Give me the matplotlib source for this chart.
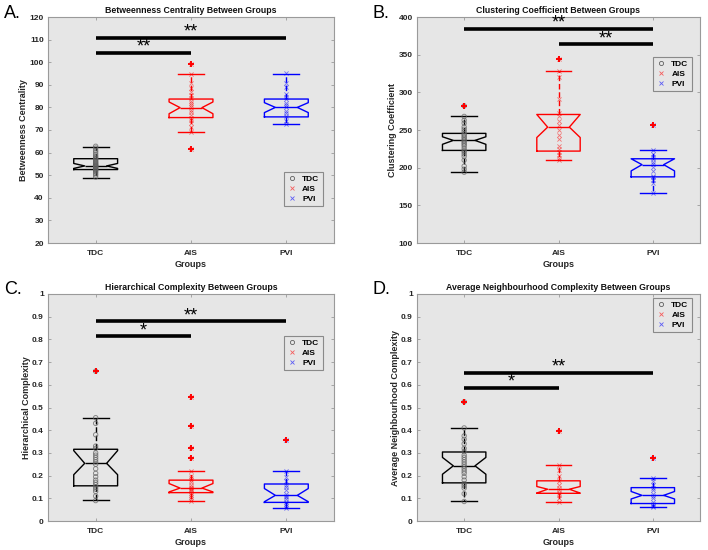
import matplotlib
matplotlib.use("Agg")
import matplotlib.pyplot as plt
from matplotlib.lines import Line2D

plt.rcParams['font.family'] = ['Liberation Sans', 'DejaVu Sans']

groups = ["TDC", "AIS", "PVI"]
group_colors = ["black", "red", "blue"]
point_colors = ["#606060", "red", "blue"]

# ---------------- Panel A: Betweenness Centrality ----------------
A_title = "Betweenness Centrality Between Groups"
A_ylabel = "Betweenness Centrality"
A_q1 = [52.5, 75.5, 75.8]
A_med = [54.1, 79.9, 80.0]
A_q3 = [57.3, 83.7, 83.7]
A_nlo = [53.0, 77.2, 77.7]
A_nhi = [55.2, 82.4, 82.1]
A_wlo = [48.9, 68.9, 72.6]
A_whi = [62.6, 94.7, 94.9]
A_out = [[], [99.0, 61.5], []]
A_TDC = [49.2, 50.1, 50.8, 51.5, 52.0, 52.4, 52.8, 53.1, 53.5, 53.8, 54.0, 54.2, 54.5,
         54.8, 55.2, 55.6, 56.0, 56.5, 57.0, 57.4, 57.9, 58.5, 59.3, 60.2, 61.0, 62.0, 62.8]
A_AIS = [61.5, 69.0, 71.5, 73.0, 74.5, 75.5, 76.5, 78.0, 79.0, 80.0, 81.0, 82.0, 83.0,
         84.0, 85.5, 87.0, 88.5, 91.0, 94.8, 99.0]
A_PVI = [72.8, 74.0, 76.0, 77.5, 78.5, 80.0, 81.0, 82.0, 83.5, 84.5, 86.0, 89.0, 91.0, 95.0]
A_ylim = (20, 120)
A_yticks = [20, 30, 40, 50, 60, 70, 80, 90, 100, 110, 120]
A_sig = [(1, 2, 104.2, "**"), (1, 3, 110.8, "**")]

# ---------------- Panel B: Clustering Coefficient ----------------
B_title = "Clustering Coefficient Between Groups"
B_ylabel = "Clustering Coefficient"
B_q1 = [222.9, 222.0, 187.8]
B_med = [236.2, 253.8, 204.0]
B_q3 = [245.5, 270.6, 211.8]
B_nlo = [231.0, 240.0, 195.7]
B_nhi = [241.0, 270.6, 211.8]
B_wlo = [194.2, 210.0, 166.5]
B_whi = [268.6, 328.0, 223.8]
B_out = [[282.0], [344.0], [256.0]]
B_TDC = [194, 198, 202, 210, 215, 218, 221, 223, 226, 229, 231, 233, 235, 237, 239, 241,
         243, 245, 248, 251, 254, 259, 263, 268, 282]
B_AIS = [210, 213, 217, 221, 225, 229, 238, 243, 250, 256, 262, 268, 272, 291, 320, 328, 344]
B_PVI = [167, 180, 184, 187, 189, 195, 201, 205, 208, 212, 214, 218, 224, 256]
B_ylim = (100, 400)
B_yticks = [100, 150, 200, 250, 300, 350, 400]
B_sig = [(1, 3, 384.5, "**"), (2, 3, 364.0, "**")]

# ---------------- Panel C: Hierarchical Complexity ----------------
C_title = "Hierarchical Complexity Between Groups"
C_ylabel = "Hierarchical Complexity"
C_q1 = [0.155, 0.125, 0.082]
C_med = [0.254, 0.145, 0.113]
C_q3 = [0.316, 0.180, 0.163]
C_nlo = [0.204, 0.128, 0.085]
C_nhi = [0.310, 0.165, 0.143]
C_wlo = [0.093, 0.086, 0.059]
C_whi = [0.454, 0.221, 0.222]
C_out = [[0.66], [0.545, 0.42, 0.32, 0.278], [0.355]]
C_TDC = [0.09, 0.11, 0.13, 0.14, 0.15, 0.16, 0.17, 0.18, 0.195, 0.21, 0.23, 0.25, 0.26,
         0.27, 0.28, 0.29, 0.30, 0.32, 0.33, 0.38, 0.43, 0.455, 0.66]
C_AIS = [0.086, 0.095, 0.105, 0.115, 0.125, 0.13, 0.135, 0.14, 0.145, 0.15, 0.16, 0.17,
         0.18, 0.19, 0.20, 0.22, 0.278, 0.32, 0.42, 0.545]
C_PVI = [0.058, 0.065, 0.075, 0.083, 0.095, 0.105, 0.11, 0.12, 0.135, 0.15, 0.16, 0.175,
         0.195, 0.222, 0.355]
C_ylim = (0, 1)
C_yticks = [0, 0.1, 0.2, 0.3, 0.4, 0.5, 0.6, 0.7, 0.8, 0.9, 1]
C_sig = [(1, 2, 0.813, "*"), (1, 3, 0.881, "**")]

# ---------------- Panel D: Average Neighbourhood Complexity ----------------
D_title = "Average Neighbourhood Complexity Between Groups"
D_ylabel = "Average Neighbourhood Complexity"
D_q1 = [0.168, 0.122, 0.077]
D_med = [0.243, 0.140, 0.113]
D_q3 = [0.304, 0.177, 0.147]
D_nlo = [0.206, 0.123, 0.097]
D_nhi = [0.280, 0.152, 0.130]
D_wlo = [0.086, 0.084, 0.060]
D_whi = [0.410, 0.245, 0.190]
D_out = [[0.525], [0.395], [0.278]]
D_TDC = [0.086, 0.12, 0.145, 0.155, 0.165, 0.18, 0.195, 0.21, 0.22, 0.23, 0.24, 0.25,
         0.26, 0.27, 0.28, 0.29, 0.305, 0.32, 0.34, 0.36, 0.375, 0.41, 0.525]
D_AIS = [0.084, 0.1, 0.115, 0.125, 0.135, 0.145, 0.16, 0.175, 0.2, 0.225, 0.245, 0.395]
D_PVI = [0.06, 0.068, 0.075, 0.085, 0.1, 0.11, 0.12, 0.135, 0.145, 0.16, 0.175, 0.19, 0.278]
D_ylim = (0, 1)
D_yticks = [0, 0.1, 0.2, 0.3, 0.4, 0.5, 0.6, 0.7, 0.8, 0.9, 1]
D_sig = [(1, 2, 0.587, "*"), (1, 3, 0.653, "**")]

panels = [
    dict(letter="A.", title=A_title, ylabel=A_ylabel, q1=A_q1, med=A_med, q3=A_q3, nlo=A_nlo,
         nhi=A_nhi, wlo=A_wlo, whi=A_whi, out=A_out, pts=[A_TDC, A_AIS, A_PVI], ylim=A_ylim,
         yticks=A_yticks, sig=A_sig, rect=(48, 17, 334, 243), leg=(0.825, 0.314), lab=(4, 5)),
    dict(letter="B.", title=B_title, ylabel=B_ylabel, q1=B_q1, med=B_med, q3=B_q3, nlo=B_nlo,
         nhi=B_nhi, wlo=B_wlo, whi=B_whi, out=B_out, pts=[B_TDC, B_AIS, B_PVI], ylim=B_ylim,
         yticks=B_yticks, sig=B_sig, rect=(417, 17, 700, 243), leg=(0.834, 0.823), lab=(373, 5)),
    dict(letter="C.", title=C_title, ylabel=C_ylabel, q1=C_q1, med=C_med, q3=C_q3, nlo=C_nlo,
         nhi=C_nhi, wlo=C_wlo, whi=C_whi, out=C_out, pts=[C_TDC, C_AIS, C_PVI], ylim=C_ylim,
         yticks=C_yticks, sig=C_sig, rect=(48, 294, 334, 521), leg=(0.825, 0.815), lab=(4, 281)),
    dict(letter="D.", title=D_title, ylabel=D_ylabel, q1=D_q1, med=D_med, q3=D_q3, nlo=D_nlo,
         nhi=D_nhi, wlo=D_wlo, whi=D_whi, out=D_out, pts=[D_TDC, D_AIS, D_PVI], ylim=D_ylim,
         yticks=D_yticks, sig=D_sig, rect=(417, 294, 700, 521), leg=(0.834, 0.982), lab=(373, 281)),
]

W, H = 708, 550
fig = plt.figure(figsize=(W / 100, H / 100), dpi=100)
fig.patch.set_facecolor("white")

AX_BG = "#e6e6e6"
EDGE = "#9a9a9a"

for p in panels:
    l, t, r, b = p["rect"]
    ax = fig.add_axes([l / W, 1 - b / H, (r - l) / W, (b - t) / H])
    ax.set_facecolor(AX_BG)
    for s in ax.spines.values():
        s.set_color(EDGE)
        s.set_linewidth(0.8)

    for i in range(3):
        stats = [dict(med=p["med"][i], q1=p["q1"][i], q3=p["q3"][i],
                      cilo=p["nlo"][i], cihi=p["nhi"][i],
                      whislo=p["wlo"][i], whishi=p["whi"][i], fliers=[])]
        c = group_colors[i]
        ax.bxp(stats, positions=[i + 1], widths=0.46, capwidths=0.27, shownotches=True,
               showfliers=False,
               boxprops=dict(color=c, linewidth=1.0),
               medianprops=dict(color=c, linewidth=1.0),
               whiskerprops=dict(color=c, linewidth=1.0, linestyle=(0, (4, 2))),
               capprops=dict(color=c, linewidth=1.0))
        pts = p["pts"][i]
        if i == 0:
            ax.scatter([i + 1] * len(pts), pts, s=10, marker="o", facecolors="none",
                       edgecolors=point_colors[i], linewidths=0.7, alpha=0.7, zorder=3)
        else:
            ax.scatter([i + 1] * len(pts), pts, s=9, marker="x", color=point_colors[i],
                       linewidths=0.6, alpha=0.5, zorder=3)
        outs = p["out"][i]
        if outs:
            ax.plot([i + 1] * len(outs), outs, linestyle="none", marker="+", color="red",
                    markersize=4, markeredgewidth=1.4, zorder=4)

    yr = p["ylim"][1] - p["ylim"][0]
    for x0, x1, y, star in p["sig"]:
        ax.plot([x0, x1], [y, y], color="black", linewidth=2.6, solid_capstyle="butt", zorder=5)
        ax.text((x0 + x1) / 2, y - 0.014 * yr, star, ha="center", va="bottom",
                fontsize=13, color="black", zorder=6)

    ax.set_xlim(0.5, 3.5)
    ax.set_ylim(*p["ylim"])
    ax.set_xticks([1, 2, 3])
    ax.set_xticklabels(groups)
    ax.set_yticks(p["yticks"])
    ax.set_yticklabels([f"{v:g}" for v in p["yticks"]])
    ax.tick_params(direction="in", length=2.5, width=0.6, color=EDGE, top=True, right=True,
                   labelsize=6, pad=3)
    ax.tick_params(axis="x", pad=5)
    for lbl in ax.get_xticklabels() + ax.get_yticklabels():
        lbl.set_fontweight("bold")
        lbl.set_color("#262626")
    ax.set_title(p["title"], fontsize=6.3, fontweight="bold", pad=3, color="#111111")
    ax.set_xlabel("Groups", fontsize=6.5, fontweight="bold", color="#262626", labelpad=2)
    ax.set_ylabel(p["ylabel"], fontsize=6.5, fontweight="bold", color="#262626", labelpad=1)

    handles = [
        Line2D([], [], linestyle="none", marker="o", markerfacecolor="none",
               markeredgecolor="#606060", markersize=3, markeredgewidth=0.6),
        Line2D([], [], linestyle="none", marker="x", color="red", alpha=0.6,
               markersize=3, markeredgewidth=0.6),
        Line2D([], [], linestyle="none", marker="x", color="blue", alpha=0.6,
               markersize=3, markeredgewidth=0.6),
    ]
    leg = ax.legend(handles, groups, loc="upper left", bbox_to_anchor=p["leg"],
                    prop=dict(size=6, weight="bold"), frameon=True, fancybox=False,
                    framealpha=1, facecolor=AX_BG, edgecolor="#8a8a8a",
                    handlelength=1.2, handletextpad=0.6, borderpad=0.4, labelspacing=0.25,
                    borderaxespad=0)
    leg.get_frame().set_linewidth(0.8)

    fig.text(p["lab"][0] / W, 1 - p["lab"][1] / H, p["letter"], fontsize=13,
             ha="left", va="top", color="black")

fig.savefig("out.png", dpi=100, facecolor="white")
